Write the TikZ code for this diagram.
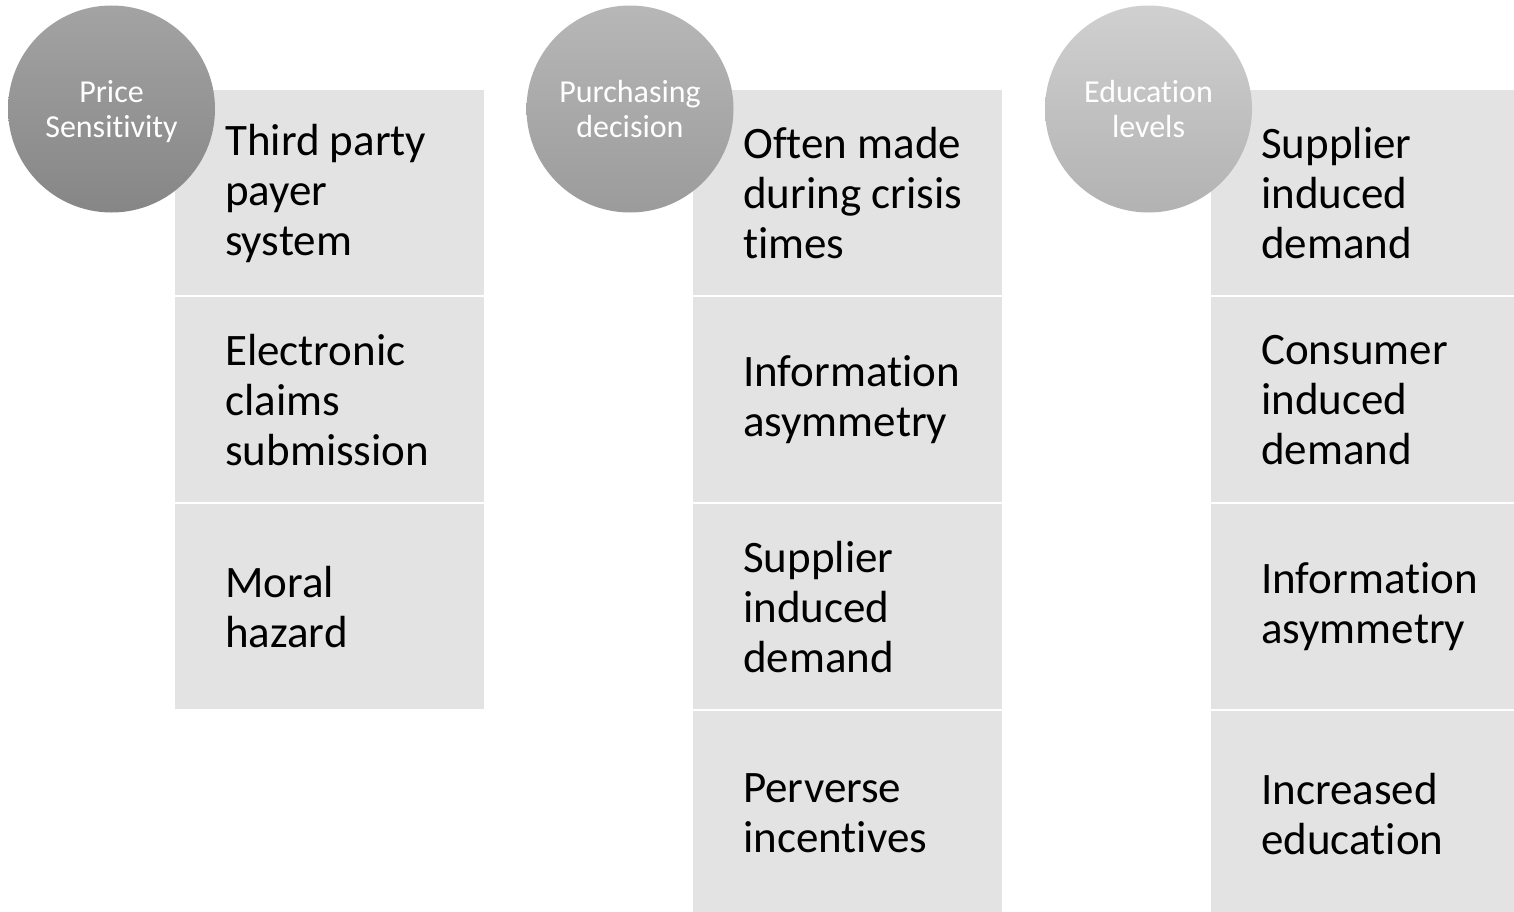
\documentclass[tikz,border=0pt]{standalone}
\usepackage{fontspec}
\setmainfont[Ligatures=NoCommon]{Carlito}
\definecolor{boxgray}{HTML}{E3E3E3}
\definecolor{cOneTop}{HTML}{A3A3A3}
\definecolor{cOneBot}{HTML}{868686}
\definecolor{cTwoTop}{HTML}{B7B7B7}
\definecolor{cTwoBot}{HTML}{9B9B9B}
\definecolor{cThrTop}{HTML}{D0D0D0}
\definecolor{cThrBot}{HTML}{B2B2B2}
\tikzset{
  item/.style={fill=boxgray, draw=none, minimum width=309pt, minimum height=205pt, anchor=north west, inner sep=0pt},
  itemtext/.style={anchor=west, align=left, inner sep=0pt, text=black, font=\fontsize{45}{50}\selectfont},
  head/.style={circle, draw=none, minimum size=207pt, inner sep=0pt, align=center, text=white, font=\fontsize{32}{35}\selectfont},
  headtext/.style={align=center, inner sep=0pt, text=white, font=\fontsize{32}{35}\selectfont}
}
\begin{document}
\begin{tikzpicture}[x=1pt,y=-1pt]
\useasboundingbox (0,0) rectangle (1514,912);
\clip (0,0) rectangle (1514,912);
% column 1
\node[item] (a1) at (175,90) {};
\node[item] (a2) at (175,297) {};
\node[item] (a3) at (175,504) {};
\node[itemtext] (ta1) at ([xshift=50pt,yshift=-1pt]a1.west) {Third party\\payer\\system};
\node[itemtext] (ta2) at ([xshift=50pt]a2.west) {Electronic\\claims\\submission};
\node[itemtext] (ta3) at ([xshift=50pt]a3.west) {Moral\\hazard};
% column 2
\node[item] (b1) at (693,90) {};
\node[item] (b2) at (693,297) {};
\node[item] (b3) at (693,504) {};
\node[item] (b4) at (693,711) {};
\node[itemtext] (tb1) at ([xshift=50pt]b1.west) {Often made\\during crisis\\times};
\node[itemtext] (tb2) at ([xshift=50pt]b2.west) {Information\\asymmetry};
\node[itemtext] (tb3) at ([xshift=50pt]b3.west) {Supplier\\induced\\demand};
\node[itemtext] (tb4) at ([xshift=50pt]b4.west) {Perverse\\incentives};
% column 3
\node[item] (c1) at (1211,90) {};
\node[item] (c2) at (1211,297) {};
\node[item] (c3) at (1211,504) {};
\node[item] (c4) at (1211,711) {};
\node[itemtext] (tc1) at ([xshift=50pt]c1.west) {Supplier\\induced\\demand};
\node[itemtext] (tc2) at ([xshift=50pt]c2.west) {Consumer\\induced\\demand};
\node[itemtext] (tc3) at ([xshift=50pt]c3.west) {Information\\asymmetry};
\node[itemtext] (tc4) at ([xshift=50pt]c4.west) {Increased\\education};
% heads
\node[head, top color=cOneTop, bottom color=cOneBot] (h1) at (111.5,109) {};
\node[headtext] (l1) at ([yshift=-3pt]h1.center) {Price\\Sensitivity};
\node[head, top color=cTwoTop, bottom color=cTwoBot] (h2) at (630,109) {};
\node[headtext] (l2) at (h2.center) {Purchasing\\decision};
\node[head, top color=cThrTop, bottom color=cThrBot] (h3) at (1148.5,109) {};
\node[headtext] (l3) at (h3.center) {Education\\levels};
\end{tikzpicture}
\end{document}
